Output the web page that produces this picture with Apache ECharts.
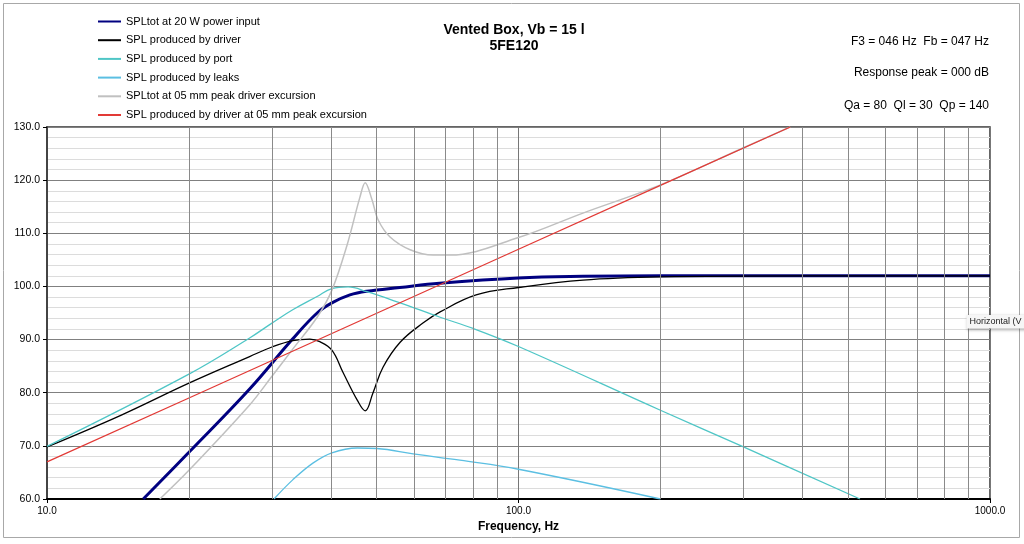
<!DOCTYPE html>
<html>
<head>
<meta charset="utf-8">
<title>Vented Box, Vb = 15 l</title>
<script src="https://cdn.jsdelivr.net/npm/echarts@6/dist/echarts.min.js"></script>
<style>
  html, body { margin: 0; padding: 0; background: #fff; }
  #chart { width: 1024px; height: 544px; }
</style>
</head>
<body>
<div id="chart"></div>
<script>
// [frequency Hz, SPL dB]
const splTot20W = [[16, 60], [20, 68.8], [26.9, 80.7], [33.1, 90], [37.4, 95],
  [40.2, 96.9], [43.9, 98.4], [47.7, 99.1], [56, 99.8], [68, 100.6], [100, 101.6], [137, 101.9],
  [200, 102.0], [1000, 102.0]]
const splDriver = [[10, 69.8], [14.3, 75.7], [20, 81.8], [26.9, 86.8], [30, 88.6], [33.2, 89.8],
  [36.1, 90.1], [37.9, 89.6], [40.2, 88], [42.4, 83.9], [45.5, 78.6], [47.3, 76.6], [49.1, 79.9],
  [51.6, 84.8], [56.1, 89.5], [62.7, 93.1], [68.2, 95.2], [81.3, 98.4], [100, 99.8], [137, 101.2],
  [200, 101.8], [400, 102], [1000, 102]]
const splPort = [[10, 69.9], [20, 83.5], [26.9, 90.3], [30, 93.1], [33.2, 95.6], [37.4, 98.1],
  [40.2, 99.6], [43.5, 99.9], [47.7, 99.0], [56.1, 96.9], [68.2, 94.2], [80.1, 92.1], [100, 88.7],
  [200, 76.7], [300, 69.8], [530, 60]]
const splLeaks = [[30.3, 60], [33.2, 63.6], [36.7, 66.8], [40.2, 68.7], [45.5, 69.6], [50.1, 69.5],
  [59.8, 68.5], [68.2, 67.8], [75.1, 67.3], [100, 65.6], [200, 60]]
const splTotXmax = [[17.35, 60], [20, 65.4], [26.9, 77.7], [30, 83.1], [33.2, 88.2], [37.4, 94.2],
  [40.2, 99.3], [43.3, 107.8], [46.1, 116.8], [47.3, 119.5], [48.9, 116.3], [50.4, 112.5],
  [53.4, 109.3], [58.9, 106.9], [65.9, 105.9], [71.6, 105.9], [100, 109.2], [137, 113.8],
  [200, 119.1], [300, 126.1], [377, 130]]
const splDriverXmax = [[10, 67], [20, 79], [100, 107], [200, 119], [377, 130]]

const seriesNames = [
  'SPLtot at 20 W power input',
  'SPL produced by driver',
  'SPL produced by port',
  'SPL produced by leaks',
  'SPLtot at 05 mm peak driver excursion',
  'SPL produced by driver at 05 mm peak excursion'
]

// axis ranges and the in-between frequency grid lines
const freqMin = 10
const freqMax = 1000
const dbMin = 60
const dbMax = 130
const dbStep = 10
const minorFreqs = [20, 30, 40, 50, 60, 70, 80, 90, 200, 300, 400, 500, 600, 700, 800, 900]

const infoLines = ['F3 = 046 Hz  Fb = 047 Hz', 'Response peak = 000 dB', 'Qa = 80  Ql = 30  Qp = 140']

const FONT = 'Liberation Sans, Arial, sans-serif'

function curve(name, data, color, width, smooth) {
  return {
    name: name,
    type: 'line',
    data: data,
    symbol: 'none',
    smooth: smooth,
    clip: true,
    z: 3,
    lineStyle: { color: color, width: width },
    itemStyle: { color: color },
    emphasis: { disabled: true }
  }
}

const chart = echarts.init(document.getElementById('chart'))

const option = {
  animation: false,
  backgroundColor: '#fff',
  grid: {
    left: 47, right: 34, top: 127, bottom: 45,
    show: true, borderColor: '#333', borderWidth: 1.5
  },
  legend: {
    orient: 'vertical',
    left: 97,
    top: 14.5,
    padding: 0,
    itemWidth: 23,
    itemHeight: 14,
    itemGap: 4.7,
    selectedMode: false,
    data: seriesNames,
    itemStyle: { opacity: 0 },
    textStyle: { fontFamily: FONT, fontSize: 11, color: '#000', lineHeight: 14 }
  },
  xAxis: {
    type: 'log',
    logBase: 10,
    min: freqMin,
    max: freqMax,
    name: 'Frequency, Hz',
    nameLocation: 'middle',
    nameGap: 21,
    nameTextStyle: { fontFamily: FONT, fontSize: 12, fontWeight: 'bold', color: '#000' },
    axisLine: { lineStyle: { color: '#000', width: 2 } },
    axisTick: { show: true, length: 4, lineStyle: { color: '#000' } },
    axisLabel: {
      fontFamily: FONT, fontSize: 10, color: '#000', margin: 7,
      formatter: v => Number(v).toFixed(1)
    },
    splitLine: { show: true, lineStyle: { color: '#777', width: 1 } }
  },
  yAxis: {
    type: 'value',
    min: dbMin,
    max: dbMax,
    interval: dbStep,
    axisLine: { show: true, lineStyle: { color: '#444', width: 2 } },
    axisTick: { show: true, length: 4, lineStyle: { color: '#000' } },
    axisLabel: {
      fontFamily: FONT, fontSize: 10.5, color: '#000', margin: 7,
      formatter: v => v.toFixed(1)
    },
    splitLine: { lineStyle: { color: '#808080', width: 1 } },
    minorTick: { show: false, splitNumber: 5 },
    minorSplitLine: { show: true, lineStyle: { color: '#dcdcdc', width: 1 } }
  },
  graphic: [
    {
      type: 'rect', silent: true, z: -10,
      shape: { x: 3.5, y: 3.5, width: 1016, height: 534 },
      style: { fill: null, stroke: '#a8a8a8', lineWidth: 1 }
    },
    {
      type: 'text', silent: true,
      style: {
        text: 'Vented Box, Vb = 15 l', x: 514, y: 30,
        textAlign: 'center', textVerticalAlign: 'middle',
        font: 'bold 14px ' + FONT, fill: '#000'
      }
    },
    {
      type: 'text', silent: true,
      style: {
        text: '5FE120', x: 514, y: 46.5,
        textAlign: 'center', textVerticalAlign: 'middle',
        font: 'bold 14px ' + FONT, fill: '#000'
      }
    },
    ...infoLines.map((t, i) => ({
      type: 'text', silent: true,
      style: {
        text: t, x: 989, y: [42, 73, 106][i],
        textAlign: 'right', textVerticalAlign: 'middle',
        font: '12px ' + FONT, fill: '#000'
      }
    })),
    {
      type: 'rect', silent: true, z: 100,
      shape: { x: 966.5, y: 315, width: 70, height: 13.5 },
      style: { fill: '#f6f6f6', shadowBlur: 3, shadowOffsetY: 1, shadowColor: 'rgba(0,0,0,0.35)' }
    },
    {
      type: 'text', silent: true, z: 101,
      style: {
        text: 'Horizontal (V', x: 969.5, y: 322,
        textVerticalAlign: 'middle', font: '9px ' + FONT, fill: '#222'
      }
    }
  ],
  series: [
    {
      name: '', type: 'line', data: [], z: 1, silent: true,
      markLine: {
        silent: true, symbol: 'none', label: { show: false },
        lineStyle: { color: '#8a8a8a', width: 1, type: 'solid' },
        emphasis: { disabled: true },
        data: minorFreqs.map(f => ({ xAxis: f }))
      }
    },
    curve(seriesNames[0], splTot20W, '#000080', 3, 0.4),
    curve(seriesNames[1], splDriver, '#000000', 1.3, 0.4),
    curve(seriesNames[2], splPort, '#4fc6c6', 1.3, 0.4),
    curve(seriesNames[3], splLeaks, '#5bbfe2', 1.3, 0.4),
    curve(seriesNames[4], splTotXmax, '#c0c0c0', 1.5, 0.35),
    curve(seriesNames[5], splDriverXmax, '#e23a36', 1.3, false)
  ]
}

chart.setOption(option)
</script>
</body>
</html>
